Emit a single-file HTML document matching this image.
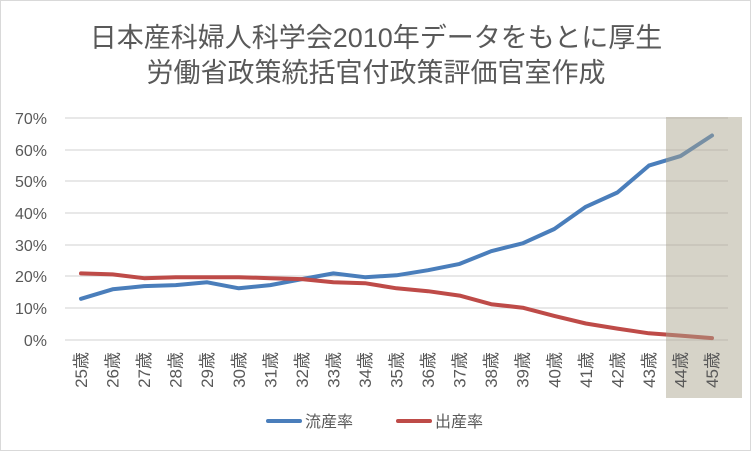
<!DOCTYPE html>
<html><head><meta charset="utf-8"><style>
html,body{margin:0;padding:0;background:#fff;}
svg{display:block;font-family:"Liberation Sans","Noto Sans CJK JP",sans-serif;}
</style></head><body>
<svg width="752" height="452" viewBox="0 0 752 452" xmlns="http://www.w3.org/2000/svg">
<rect x="0.5" y="0.5" width="750" height="450" fill="#fff" stroke="#d9d9d9"/>
<text x="376" y="47" font-size="27" fill="#595959" text-anchor="middle">日本産科婦人科学会2010年データをもとに厚生</text>
<text x="376" y="82" font-size="27" fill="#595959" text-anchor="middle">労働省政策統括官付政策評価官室作成</text>
<g stroke="#d9d9d9" stroke-width="1.3">
<line x1="65" x2="728" y1="118" y2="118"/><line x1="65" x2="728" y1="150" y2="150"/>
<line x1="65" x2="728" y1="181" y2="181"/><line x1="65" x2="728" y1="213" y2="213"/>
<line x1="65" x2="728" y1="245" y2="245"/><line x1="65" x2="728" y1="276" y2="276"/>
<line x1="65" x2="728" y1="308" y2="308"/><line x1="65" x2="728" y1="340" y2="340"/>
</g>
<g font-size="16" fill="#595959" text-anchor="end">
<text x="47" y="124">70%</text><text x="47" y="156">60%</text><text x="47" y="187">50%</text>
<text x="47" y="219">40%</text><text x="47" y="251">30%</text><text x="47" y="282">20%</text>
<text x="47" y="314">10%</text><text x="47" y="346">0%</text>
</g>
<polyline fill="none" stroke="#4a7ebb" stroke-width="4" stroke-linejoin="round" stroke-linecap="round"
points="81,298.8 112.6,289.3 144.1,286.1 175.7,285.1 207.2,282.3 238.8,288.3 270.3,285.1 301.9,279.1 333.4,273.4 365,277.2 396.5,275.3 428.1,270.2 459.6,263.9 491.2,251.2 522.7,243.3 554.3,229.0 585.8,206.8 617.4,192.5 648.9,165.6 680.5,156.1 712,135.5"/>
<polyline fill="none" stroke="#be4b48" stroke-width="4" stroke-linejoin="round" stroke-linecap="round"
points="81,273.4 112.6,274.4 144.1,278.2 175.7,277.2 207.2,277.2 238.8,277.2 270.3,278.2 301.9,279.1 333.4,282.3 365,283.2 396.5,288.3 428.1,291.2 459.6,295.6 491.2,304.2 522.7,307.7 554.3,315.9 585.8,323.5 617.4,328.6 648.9,333.3 680.5,335.6 712,338.1"/>
<rect x="666" y="117" width="76" height="281" fill="rgba(170,164,140,0.48)"/>
<g font-size="17" fill="#595959">
<text transform="translate(87,352) rotate(-90)" text-anchor="end">25歳</text>
<text transform="translate(118.6,352) rotate(-90)" text-anchor="end">26歳</text>
<text transform="translate(150.1,352) rotate(-90)" text-anchor="end">27歳</text>
<text transform="translate(181.7,352) rotate(-90)" text-anchor="end">28歳</text>
<text transform="translate(213.2,352) rotate(-90)" text-anchor="end">29歳</text>
<text transform="translate(244.8,352) rotate(-90)" text-anchor="end">30歳</text>
<text transform="translate(276.3,352) rotate(-90)" text-anchor="end">31歳</text>
<text transform="translate(307.9,352) rotate(-90)" text-anchor="end">32歳</text>
<text transform="translate(339.4,352) rotate(-90)" text-anchor="end">33歳</text>
<text transform="translate(371,352) rotate(-90)" text-anchor="end">34歳</text>
<text transform="translate(402.5,352) rotate(-90)" text-anchor="end">35歳</text>
<text transform="translate(434.1,352) rotate(-90)" text-anchor="end">36歳</text>
<text transform="translate(465.6,352) rotate(-90)" text-anchor="end">37歳</text>
<text transform="translate(497.2,352) rotate(-90)" text-anchor="end">38歳</text>
<text transform="translate(528.7,352) rotate(-90)" text-anchor="end">39歳</text>
<text transform="translate(560.3,352) rotate(-90)" text-anchor="end">40歳</text>
<text transform="translate(591.8,352) rotate(-90)" text-anchor="end">41歳</text>
<text transform="translate(623.4,352) rotate(-90)" text-anchor="end">42歳</text>
<text transform="translate(654.9,352) rotate(-90)" text-anchor="end">43歳</text>
<text transform="translate(686.5,352) rotate(-90)" text-anchor="end">44歳</text>
<text transform="translate(718,352) rotate(-90)" text-anchor="end">45歳</text>
</g>
<line x1="268" x2="300" y1="421" y2="421" stroke="#4a7ebb" stroke-width="4" stroke-linecap="round"/>
<text x="305" y="427" font-size="16" fill="#595959">流産率</text>
<line x1="398" x2="430" y1="421" y2="421" stroke="#be4b48" stroke-width="4" stroke-linecap="round"/>
<text x="435" y="427" font-size="16" fill="#595959">出産率</text>
</svg>
</body></html>
